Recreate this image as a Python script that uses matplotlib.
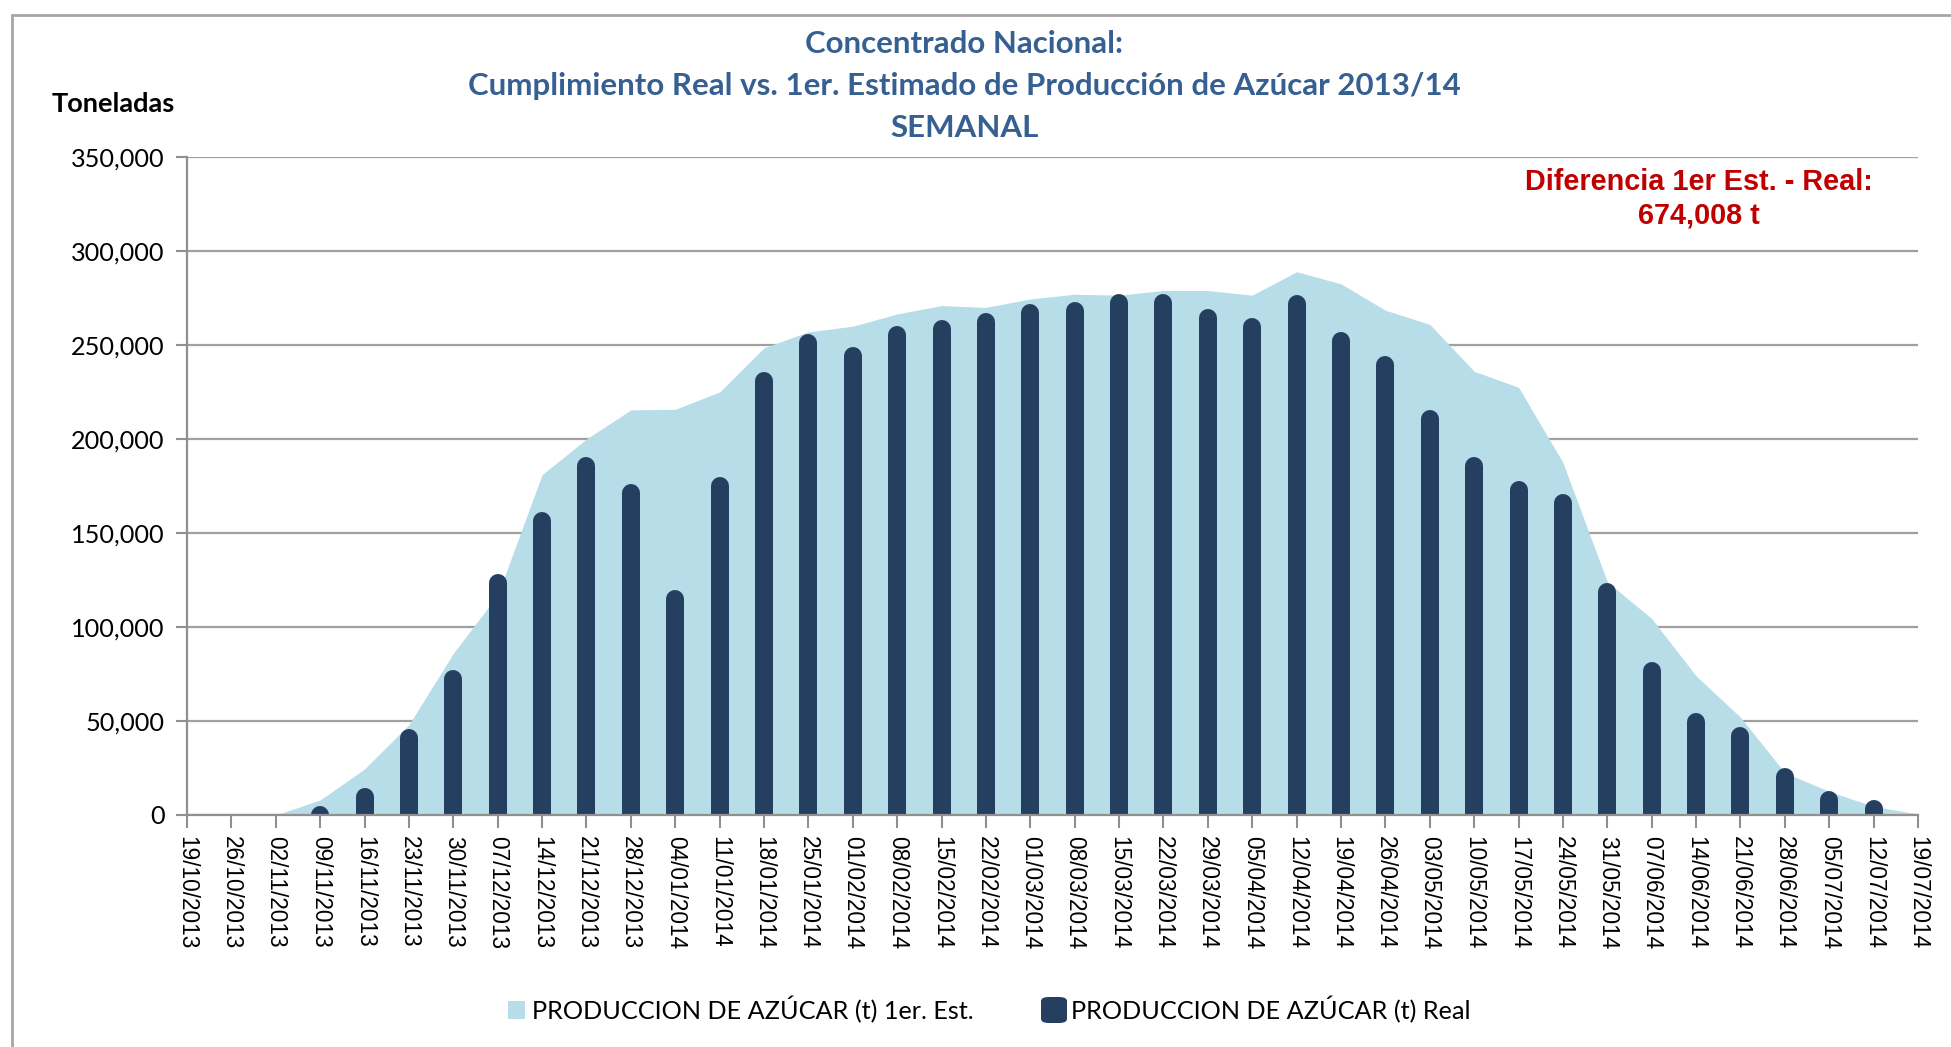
import matplotlib
matplotlib.use("Agg")
import matplotlib.pyplot as plt
from matplotlib.patches import Rectangle, FancyBboxPatch
from matplotlib.ticker import FuncFormatter

dates = ["19/10/2013", "26/10/2013", "02/11/2013", "09/11/2013", "16/11/2013", "23/11/2013",
         "30/11/2013", "07/12/2013", "14/12/2013", "21/12/2013", "28/12/2013", "04/01/2014",
         "11/01/2014", "18/01/2014", "25/01/2014", "01/02/2014", "08/02/2014", "15/02/2014",
         "22/02/2014", "01/03/2014", "08/03/2014", "15/03/2014", "22/03/2014", "29/03/2014",
         "05/04/2014", "12/04/2014", "19/04/2014", "26/04/2014", "03/05/2014", "10/05/2014",
         "17/05/2014", "24/05/2014", "31/05/2014", "07/06/2014", "14/06/2014", "21/06/2014",
         "28/06/2014", "05/07/2014", "12/07/2014", "19/07/2014"]

estimado = [0, 0, 0, 8000, 24500, 48000, 86000, 117000, 181000, 200000, 215500, 215800,
            225000, 248500, 257000, 260000, 266500, 271000, 270000, 274500, 277000, 276500,
            279000, 279000, 276500, 289000, 282500, 268500, 261000, 236000, 227500, 187500,
            124000, 104500, 74000, 52000, 22500, 12500, 4600, 500]

real = [0, 0, 0, 3000, 14500, 46000, 77000, 128000, 161000, 190500, 176000, 119500,
        180000, 235500, 256000, 249000, 260000, 263500, 267000, 272000, 273000, 277000,
        277000, 269000, 264500, 276500, 257000, 244000, 215500, 190500, 177500, 170500,
        123500, 81500, 54000, 47000, 25000, 13000, 8000, 0]

W, H = 1951, 1047
fig = plt.figure(figsize=(W / 100, H / 100), dpi=100)

# outer frame
fig.patches.append(Rectangle((12 / W, -0.05), 1.2, (H - 15) / H + 0.05, transform=fig.transFigure,
                             fill=False, edgecolor="#A6A6A6", linewidth=2.0))

ax_l, ax_r, ax_t, ax_b = 187, 1918, 157, 815
ax = fig.add_axes([ax_l / W, 1 - ax_b / H, (ax_r - ax_l) / W, (ax_b - ax_t) / H])

x = list(range(len(dates)))
ymax = 350000
ax.set_xlim(0, len(dates) - 1)
ax.set_ylim(0, ymax)

ax.fill_between(x, estimado, 0, color="#B7DDE8", linewidth=0, zorder=2)

# bars with rounded tops
bar_px = 18
r_data = (bar_px / 2) / (ax_b - ax_t) * ymax
for xi, v in zip(x, real):
    if v > 0:
        ax.plot([xi, xi], [0, v - r_data], color="#243F60", linewidth=bar_px * 0.72,
                solid_capstyle="round", zorder=3)

ax.set_yticks(range(0, ymax + 1, 50000))
ax.yaxis.set_major_formatter(FuncFormatter(lambda v, p: f"{int(v):,}"))
ax.grid(axis="y", color="#A0A0A0", linewidth=1.6, zorder=0)
ax.set_axisbelow(True)

ax.set_xticks(x)
ax.set_xticklabels(dates, rotation=270, fontfamily="Liberation Sans", fontsize=16.3)
for lab in ax.get_yticklabels():
    lab.set_fontfamily("Lato")
    lab.set_fontsize(18.2)
ax.tick_params(axis="x", direction="out", length=9, width=1.5, color="#909090", pad=6)
ax.tick_params(axis="y", direction="out", length=8, width=1.5, color="#909090", pad=8)

for s in ["top", "right"]:
    ax.spines[s].set_visible(False)
for s in ["left", "bottom"]:
    ax.spines[s].set_color("#909090")
    ax.spines[s].set_linewidth(1.6)
    ax.spines[s].set_zorder(5)

# titles
title_color = "#366092"
fig.text(964 / W, 1 - 44 / H, "Concentrado Nacional:", ha="center", va="center",
         fontfamily="Lato", fontweight="bold", fontsize=22.5, color=title_color)
fig.text(964 / W, 1 - 86 / H, "Cumplimiento Real vs. 1er. Estimado de Producción de Azúcar 2013/14",
         ha="center", va="center", fontfamily="Lato", fontweight="bold", fontsize=22.5, color=title_color)
fig.text(964 / W, 1 - 128 / H, "SEMANAL", ha="center", va="center",
         fontfamily="Lato", fontweight="bold", fontsize=22.5, color=title_color)

fig.text(113 / W, 1 - 104 / H, "Toneladas", ha="center", va="center",
         fontfamily="Lato", fontweight="bold", fontsize=19.5, color="black")

fig.text(1699 / W, 1 - 182 / H, "Diferencia 1er Est. - Real:", ha="center", va="center",
         fontfamily="Liberation Sans", fontweight="bold", fontsize=20.8, color="#C00000")
fig.text(1699 / W, 1 - 216 / H, "674,008 t", ha="center", va="center",
         fontfamily="Liberation Sans", fontweight="bold", fontsize=20.8, color="#C00000")

# legend
ly = 1 - 1010 / H
fig.patches.append(Rectangle((508 / W, ly - 9 / H), 17 / W, 18 / H, transform=fig.transFigure,
                             facecolor="#B7DDE8", edgecolor="none"))
fig.text(532 / W, ly, "PRODUCCION DE AZÚCAR (t) 1er. Est.", ha="left", va="center",
         fontfamily="Lato", fontsize=18.2, color="black")
fig.patches.append(FancyBboxPatch((1041 / W, ly - 13 / H), 26 / W, 26 / H, transform=fig.transFigure,
                                  boxstyle="round,pad=0,rounding_size=0.004",
                                  facecolor="#243F60", edgecolor="none"))
fig.text(1071 / W, ly, "PRODUCCION DE AZÚCAR (t) Real", ha="left", va="center",
         fontfamily="Lato", fontsize=18.2, color="black")

fig.savefig("out.png", dpi=100)
